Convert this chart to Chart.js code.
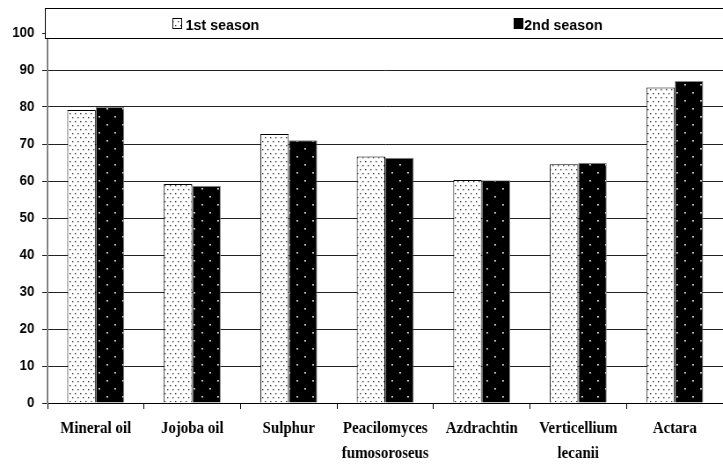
<!DOCTYPE html>
<html>
<head>
<meta charset="utf-8">
<script src="https://cdn.jsdelivr.net/npm/chart.js@4/dist/chart.umd.min.js"></script>
<style>
html,body{margin:0;padding:0;background:#fff;overflow:hidden;}
#wrap{width:723px;height:466px;position:relative;overflow:hidden;}
#inner{position:absolute;left:0;top:0;width:822px;height:466px;transform:scaleX(0.87956);transform-origin:0 0;}
</style>
</head>
<body>
<div id="wrap"><div id="inner"><canvas id="c" width="822" height="466"></canvas></div></div>
<script>
const categories = [
  "Mineral oil",
  "Jojoba oil",
  "Sulphur",
  ["Peacilomyces", "fumosoroseus"],
  "Azdrachtin",
  ["Verticellium", "lecanii"],
  "Actara"
];
const seriesNames = ["1st season", "2nd season"];
const season1 = [79.2, 59.2, 72.7, 66.6, 60.3, 64.5, 85.3];
const season2 = [80.0, 58.7, 71.0, 66.3, 60.2, 64.9, 87.0];
const yMin = 0, yMax = 100, yStep = 10;

const SX = 723 / 822; // horizontal squeeze applied by CSS

function makePattern(w, h, bg, dotColor, dots, rw, rh) {
  const c = document.createElement('canvas');
  c.width = w; c.height = h;
  const g = c.getContext('2d');
  g.fillStyle = bg; g.fillRect(0, 0, w, h);
  g.fillStyle = dotColor;
  dots.forEach(d => { g.fillRect(d[0], d[1], rw, rh); });
  return document.getElementById('c').getContext('2d').createPattern(c, 'repeat');
}
const pat1 = makePattern(6, 8, '#ffffff', '#3a3a3a', [[1,1],[4,5]], 1.4, 1.3);
const pat2 = makePattern(18, 16, '#000000', '#e0e0e0', [[4,4],[13,12]], 1.8, 1.6);

const sansFont = "'Liberation Sans', Arial, sans-serif";
const serifFont = "'Liberation Serif', 'Times New Roman', serif";

const legendBox = {
  id: 'legendBox',
  afterDraw(chart) {
    const ctx = chart.ctx;
    ctx.save();
    ctx.fillStyle = '#ffffff';
    ctx.fillRect(51.5, 8.5, 800, 30);
    ctx.strokeStyle = '#000000';
    ctx.lineWidth = 1;
    ctx.strokeRect(51.5, 8.5, 800, 30);
    const items = [
      {x: 196, tx: 211, fill: pat1, text: seriesNames[0]},
      {x: 584, tx: 596, fill: pat2, text: seriesNames[1]}
    ];
    items.forEach(it => {
      ctx.fillStyle = it.fill;
      ctx.fillRect(it.x + 0.5, 18.5, 10, 10);
      ctx.strokeStyle = '#000';
      ctx.strokeRect(it.x + 0.5, 18.5, 10, 10);
      ctx.save();
      ctx.translate(it.tx, 29.5);
      ctx.scale(1.08, 1);
      ctx.font = "bold 15px " + sansFont;
      ctx.textBaseline = 'alphabetic';
      ctx.fillStyle = '#000';
      ctx.fillText(it.text, 0, 0);
      ctx.restore();
    });
    ctx.restore();
  }
};

new Chart(document.getElementById('c'), {
  type: 'bar',
  data: {
    labels: categories,
    datasets: [
      {label: seriesNames[0], data: season1, backgroundColor: pat1, borderColor: '#000000', borderWidth: 1},
      {label: seriesNames[1], data: season2, backgroundColor: pat2, borderColor: '#888888', borderWidth: 1}
    ]
  },
  options: {
    responsive: false,
    animation: false,
    devicePixelRatio: 1,
    categoryPercentage: 0.59,
    barPercentage: 1.0,
    layout: {padding: {top: 33, left: 0, right: 0, bottom: 0}},
    plugins: {legend: {display: false}, tooltip: {enabled: false}},
    scales: {
      x: {
        grid: {display: true, drawOnChartArea: false, drawTicks: true, tickLength: 6, color: '#000', offset: true},
        border: {display: true, color: '#000', width: 1},
        ticks: {color: '#000', padding: 8, font: {family: serifFont, size: 17, weight: 'bold', lineHeight: 1.42}, maxRotation: 0, autoSkip: false},
        afterFit(s) { s.height = 63; }
      },
      y: {
        min: yMin, max: yMax,
        ticks: {stepSize: yStep, color: '#000', padding: 9, font: {family: sansFont, size: 15, weight: 'bold'}},
        grid: {color: '#222', lineWidth: 1, tickLength: 6, drawTicks: true},
        border: {display: true, color: '#808080', width: 2},
        afterFit(s) { s.width = 54; }
      }
    }
  },
  plugins: [legendBox]
});
</script>
</body>
</html>
